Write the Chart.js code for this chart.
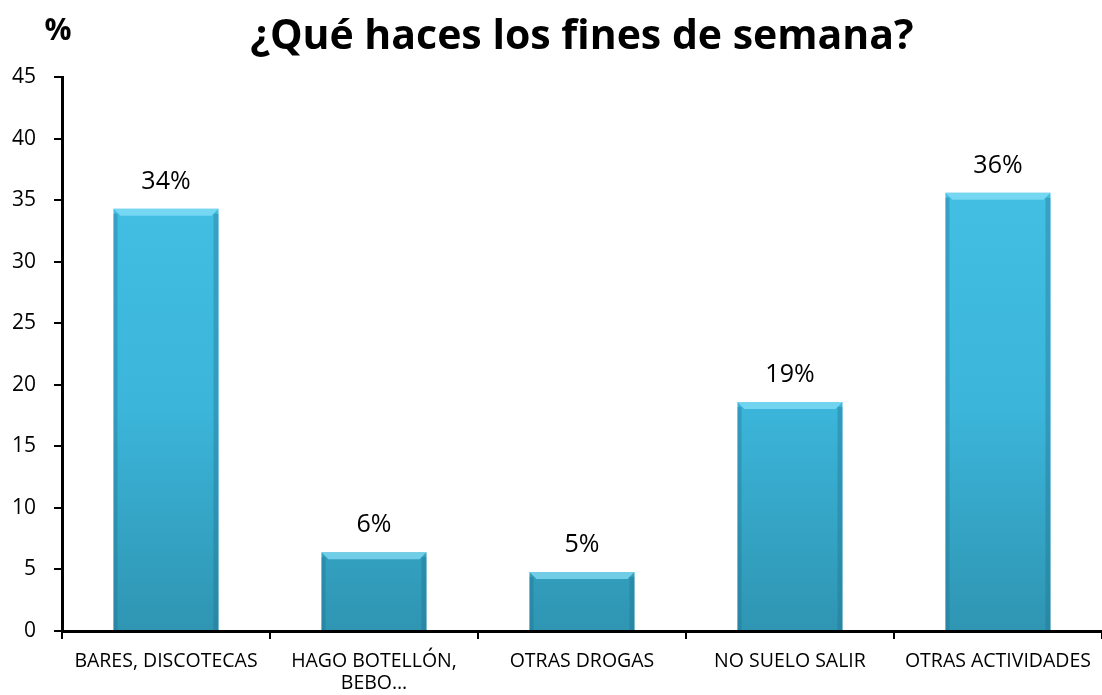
<!DOCTYPE html>
<html>
<head>
<meta charset="utf-8">
<script src="https://cdn.jsdelivr.net/npm/chart.js@4/dist/chart.umd.min.js"></script>
<style>
  html, body { margin: 0; padding: 0; background: #fff; }
  #wrap { width: 1102px; height: 695px; position: relative; }
</style>
</head>
<body>
<div id="wrap"><canvas id="chart"></canvas></div>
<script>
// Chart data
const categories = ['BARES, DISCOTECAS', ['HAGO BOTELLÓN,', 'BEBO…'], 'OTRAS DROGAS', 'NO SUELO SALIR', 'OTRAS ACTIVIDADES'];
const values = [34.3, 6.4, 4.8, 18.6, 35.6];
const valueLabels = ['34%', '6%', '5%', '19%', '36%'];
const yTicks = [0, 5, 10, 15, 20, 25, 30, 35, 40, 45];

// Vertical gradient for the bevelled bars
function barGradient(context) {
    const chart = context.chart;
    const area = chart.chartArea;
    if (!area) return '#3dbbe0';
    const g = chart.ctx.createLinearGradient(0, area.top, 0, area.bottom);
    g.addColorStop(0, '#47c4e9');
    g.addColorStop(0.6, '#3bb5da');
    g.addColorStop(1, '#2f95b2');
    return g;
}

// Draws value labels above bars and the "%" unit label
const labelsPlugin = {
    id: 'labelsPlugin',
    afterDatasetsDraw(chart) {
        const ctx = chart.ctx;
        const meta = chart.getDatasetMeta(0);
        ctx.save();
        ctx.fillStyle = '#000';
        ctx.textAlign = 'center';
        ctx.textBaseline = 'middle';
        ctx.font = '25px "Open Sans"';
        meta.data.forEach((bar, i) => {
            ctx.fillText(valueLabels[i], bar.x, bar.y - 27);
        });
        ctx.font = 'bold 30px "Open Sans"';
        ctx.fillText('%', 58, 31);
        ctx.restore();
    }
};

// Top highlight strip and darker sides to suggest the bevel
const bevelPlugin = {
    id: 'bevelPlugin',
    afterDatasetsDraw(chart) {
        const ctx = chart.ctx;
        const meta = chart.getDatasetMeta(0);
        ctx.save();
        meta.data.forEach(bar => {
            const left = bar.x - bar.width / 2;
            const right = bar.x + bar.width / 2;
            ctx.fillStyle = 'rgba(140, 225, 248, 0.7)';
            ctx.beginPath();
            ctx.moveTo(left, bar.y);
            ctx.lineTo(right, bar.y);
            ctx.lineTo(right - 7, bar.y + 7);
            ctx.lineTo(left + 7, bar.y + 7);
            ctx.closePath();
            ctx.fill();
            ctx.fillStyle = 'rgba(30, 110, 140, 0.35)';
            ctx.fillRect(right - 5, bar.y + 5, 5, bar.base - bar.y - 5);
            ctx.fillRect(left, bar.y + 5, 4, bar.base - bar.y - 5);
        });
        ctx.restore();
    }
};

const ctx = document.getElementById('chart').getContext('2d');
new Chart(ctx, {
    type: 'bar',
    data: {
        labels: categories,
        datasets: [{
            data: values,
            backgroundColor: barGradient,
            borderWidth: 0,
            categoryPercentage: 1,
            barPercentage: 0.505
        }]
    },
    options: {
        responsive: true,
        maintainAspectRatio: false,
        animation: false,
        layout: { padding: 0 },
        plugins: {
            legend: { display: false },
            tooltip: { enabled: false },
            title: {
                display: true,
                text: '¿Qué haces los fines de semana?',
                fullSize: false,
                color: '#000',
                font: { family: 'Open Sans', size: 41, weight: 'bold', lineHeight: 1.2 },
                padding: { top: 12.8, bottom: 15 }
            }
        },
        scales: {
            x: {
                afterFit(scale) { scale.height = 64; },
                grid: {
                    offset: true,
                    drawOnChartArea: false,
                    color: '#000',
                    tickLength: 8,
                    lineWidth: 2
                },
                border: { color: '#000', width: 3 },
                ticks: {
                    color: '#000',
                    padding: 11,
                    maxRotation: 0,
                    autoSkip: false,
                    font: { family: 'Open Sans', size: 19.5, lineHeight: 1.13 }
                }
            },
            y: {
                min: 0,
                max: 45,
                afterFit(scale) { scale.width = 62; },
                afterBuildTicks(scale) { scale.ticks = yTicks.map(v => ({ value: v })); },
                grid: {
                    drawOnChartArea: false,
                    color: '#000',
                    tickLength: 8,
                    lineWidth: 2
                },
                border: { color: '#000', width: 3 },
                ticks: {
                    color: '#000',
                    padding: 18,
                    font: { family: 'Open Sans', size: 21 }
                }
            }
        }
    },
    plugins: [bevelPlugin, labelsPlugin]
});
</script>
</body>
</html>
